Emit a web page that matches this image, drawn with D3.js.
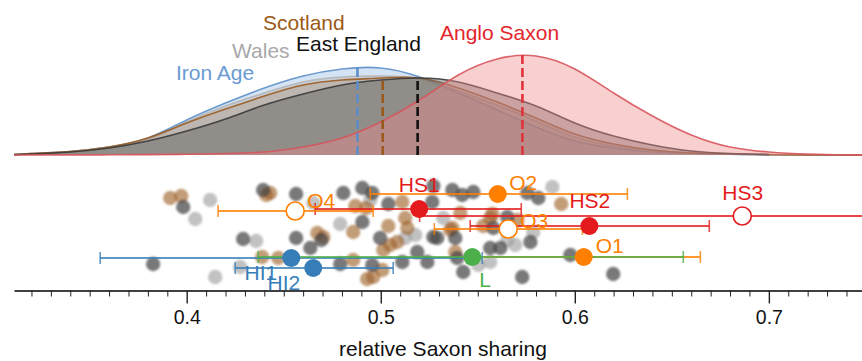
<!DOCTYPE html>
<html>
<head>
<meta charset="utf-8">
<script src="https://cdn.jsdelivr.net/npm/d3@7"></script>
<style>
  body { margin: 0; background: #fff; }
  svg { display: block; font-family: "Liberation Sans", Arial, Helvetica, sans-serif; }
</style>
</head>
<body>
<svg id="chart" width="862" height="361"></svg>
<script>
// ---- density curves: relative Saxon sharing grid and curve heights (% of Anglo Saxon peak)
const densityGrid = [0.311, 0.32, 0.34, 0.36, 0.38, 0.40, 0.42, 0.44, 0.46, 0.48, 0.50, 0.52,
                     0.54, 0.56, 0.58, 0.60, 0.62, 0.64, 0.66, 0.68, 0.70, 0.72, 0.74, 0.748];
const ironAgeDensity     = [0.5, 1.5, 3.5, 8, 17, 35, 52, 67, 79, 86, 87, 78, 62, 45, 28, 14, 7, 3, 1.5, 0.7, 0.3, 0.1, 0, 0];
const walesDensity       = [0.5, 1.5, 3.5, 8, 16, 33, 49, 62, 73, 78, 79, 76, 64, 50, 34, 18, 9, 4, 2, 1, 0.4, 0.1, 0, 0];
const scotlandDensity    = [0.4, 1.5, 3.5, 8, 17, 32, 46, 59, 70, 75, 77, 77, 67, 53, 37, 21, 11, 5, 2, 1, 0.4, 0.1, 0, 0];
const eastEnglandDensity = [0.3, 1, 3, 7, 14, 24, 36, 50, 61, 70, 75, 77, 73, 62, 49, 32, 19, 10, 4, 1.5, 0.5];
const angloSaxonDensity  = [0, 0, 0.1, 0.2, 0.4, 0.7, 1.5, 3, 8, 17, 33, 55, 80, 96, 99, 86, 62, 39, 20, 8, 3, 1, 0.2, 0.1];

const densityNames = ["Iron Age", "Wales", "Scotland", "East England", "Anglo Saxon"];
const densityMeans = { "Iron Age": 0.488, "Scotland": 0.501, "East England": 0.519, "Anglo Saxon": 0.573 };

// ---- individual samples: relative Saxon sharing and vertical jitter lane
const eastEnglandSamples = [0.3827, 0.3982, 0.4291, 0.4394, 0.4564, 0.4564, 0.4637, 0.4694, 0.4807, 0.4905,
  0.4956, 0.5039, 0.4905, 0.4997, 0.4791, 0.4956, 0.5111, 0.5188, 0.5240, 0.5291, 0.5394, 0.5564, 0.5616,
  0.5580, 0.5369, 0.5477, 0.5265, 0.5271, 0.5384, 0.5652, 0.5755, 0.5812, 0.5771, 0.5425, 0.5729, 0.5977,
  0.6198, 0.5271, 0.5420];
const eastEnglandJitter = [8.4, 2.7, 5.9, 1.0, 1.4, 5.8, 6.8, 6.0, 1.3, 0.8,
  1.3, 2.4, 4.2, 5.8, 8.4, 8.5, 8.2, 7.2, 8.2, 5.8, 7.8, 6.8, 6.8,
  4.8, 1.0, 1.2, 2.2, 5.7, 5.8, 3.7, 1.3, 1.8, 6.2, 9.2, 9.7, 7.5,
  9.4, 0.6, 1.5];
const scotlandSamples = [0.3915, 0.3972, 0.4410, 0.4430, 0.4389, 0.4472, 0.4673, 0.4704, 0.4869, 0.4925,
  0.5111, 0.4858, 0.5039, 0.5126, 0.5137, 0.5049, 0.5085, 0.5013, 0.4858, 0.5008, 0.4961, 0.4930,
  0.5369, 0.5384, 0.5528, 0.5575, 0.5410, 0.5358, 0.5564, 0.5704, 0.5930];
const scotlandJitter = [1.8, 1.6, 1.5, 1.3, 7.7, 7.8, 5.3, 5.7, 2.6, 2.8,
  2.2, 5.2, 4.6, 3.8, 4.8, 6.5, 6.2, 7.0, 8.0, 9.0, 9.7, 9.9,
  4.8, 7.2, 4.6, 3.4, 3.3, 5.0, 3.8, 4.0, 2.4];
const walesSamples = [0.4121, 0.4044, 0.4147, 0.4276, 0.4358, 0.4652, 0.4791, 0.5126, 0.5503, 0.5322,
  0.5884, 0.5786, 0.5652, 0.5693, 0.4946, 0.5178, 0.5564];
const walesJitter = [2.0, 3.9, 9.7, 8.7, 6.1, 2.3, 4.4, 5.8, 8.5, 3.8,
  0.7, 5.2, 6.0, 6.5, 2.0, 5.5, 8.2];

// ---- reference populations: estimate, confidence interval, lane
const refNames  = ["HS1", "HS2", "HS3", "O1", "O2", "O3", "O4", "HI1", "HI2", "L"];
const refGroups = ["HS", "HS", "HS", "O", "O", "O", "O", "HI", "HI", "L"];
const refValues = [0.5198, 0.6075, 0.6863, 0.6046, 0.5603, 0.5657, 0.4559, 0.4539, 0.4652, 0.5472];
const refLow    = [0.4662, 0.5461, 0.5200, 0.5451, 0.4946, 0.5276, 0.4162, 0.3554, 0.4250, 0.4369];
const refHigh   = [0.5724, 0.6693, 0.8500, 0.6647, 0.6271, 0.6039, 0.4961, 0.5523, 0.5064, 0.6559];
const refLanes  = [2.9, 4.6, 3.6, 7.7, 1.4, 4.9, 3.1, 7.8, 8.8, 7.7];
const refHollow = ["HS3", "O3", "O4"];

// ---- axis ticks
const majorTicks = [0.4, 0.5, 0.6, 0.7];
const axisTitle = "relative Saxon sharing";

// ---- styling and layout
const densityStyle = {
  "Iron Age":     { stroke: "#5e90c9", fill: "#a9c9ea", opacity: 0.5, text: "#6a9bd2", dash: "#5b8ec8" },
  "Wales":        { stroke: "#b4b4b4", fill: "#b8b8b8", opacity: 0.45, text: "#a8a8a8", dash: "#aaaaaa" },
  "Scotland":     { stroke: "#9a5c22", fill: "#a97448", opacity: 0.28, text: "#9c5a16", dash: "#9a5a1c" },
  "East England": { stroke: "#3a3a3a", fill: "#5a5a5a", opacity: 0.45, text: "#111111", dash: "#111111" },
  "Anglo Saxon":  { stroke: "#d8545c", fill: "#f08a8a", opacity: 0.4, text: "#e3262c", dash: "#e0323a" }
};
const densityLabelPos = {
  "Scotland": [263, 30], "East England": [296, 51], "Wales": [232, 58],
  "Iron Age": [176, 80], "Anglo Saxon": [440, 40]
};
const groupColor = { HS: "#e41a1c", O: "#ff7f00", HI: "#377eb8", L: "#4daf4a" };
// label offset from marker: [dx, dy, anchor]
const refLabelOffset = {
  HS1: [0, -17, "middle"], HS2: [0.5, -18, "middle"], HS3: [0.5, -16, "middle"],
  O1: [12, -4, "start"], O2: [11.5, -4, "start"], O3: [12, -1, "start"], O4: [12, -3, "start"],
  HI1: [-14, 22, "end"], HI2: [-13, 22, "end"], L: [7, 30, "start"]
};

const svg = d3.select("#chart");
const x = d3.scaleLinear().domain([0.311, 0.748]).range([14, 862]);
const yDens = d3.scaleLinear().domain([0, 100]).range([155, 55]);
const yLane = d3.scaleLinear().domain([0, 11]).range([180, 290]);

const densities = {
  "Iron Age": ironAgeDensity, "Wales": walesDensity, "Scotland": scotlandDensity,
  "East England": eastEnglandDensity, "Anglo Saxon": angloSaxonDensity
};

const defs = svg.append("defs");
defs.append("filter").attr("id", "soft").attr("x", "-50%").attr("y", "-50%").attr("width", "200%").attr("height", "200%")
  .append("feGaussianBlur").attr("stdDeviation", 0.9);
defs.append("clipPath").attr("id", "densClip").append("rect")
  .attr("x", 0).attr("y", 0).attr("width", 862).attr("height", 156);

// ---- density areas (smooth spline through the sampled heights)
const area = d3.area().curve(d3.curveNatural)
  .x(d => x(d[0])).y0(yDens(0)).y1(d => yDens(d[1]));
const line = d3.line().curve(d3.curveNatural)
  .x(d => x(d[0])).y(d => yDens(d[1]));

const gDens = svg.append("g").attr("clip-path", "url(#densClip)");
densityNames.forEach(name => {
  const pts = densities[name].map((h, i) => [densityGrid[i], h]);
  const st = densityStyle[name];
  gDens.append("path").datum(pts).attr("d", area)
    .attr("fill", st.fill).attr("fill-opacity", st.opacity);
  gDens.append("path").datum(pts).attr("d", line)
    .attr("fill", "none").attr("stroke", st.stroke).attr("stroke-width", 1.6).attr("stroke-opacity", 0.9);
});

// dashed mean markers
function heightAt(name, v) {
  const h = densities[name];
  for (let i = 0; i < h.length - 1; i++) {
    const a = densityGrid[i], b = densityGrid[i + 1];
    if (v >= a && v <= b) return h[i] + (h[i + 1] - h[i]) * (v - a) / (b - a);
  }
  return 0;
}
Object.keys(densityMeans).forEach(name => {
  const v = densityMeans[name];
  const top = Math.max(heightAt(name, v), d3.max(densities[name]) * 0.99);
  gDens.append("line")
    .attr("x1", x(v)).attr("x2", x(v))
    .attr("y1", yDens(0)).attr("y2", yDens(name === "Anglo Saxon" ? 100 : top + 1))
    .attr("stroke", densityStyle[name].dash)
    .attr("stroke-width", 2.6).attr("stroke-dasharray", "9,4");
});

// density labels
densityNames.forEach(name => {
  const p = densityLabelPos[name];
  svg.append("text").attr("x", p[0]).attr("y", p[1])
    .attr("font-size", 21).attr("fill", densityStyle[name].text).text(name);
});

// ---- sample points
const gPts = svg.append("g").attr("filter", "url(#soft)");
function drawSamples(vals, jit, fill, op) {
  gPts.selectAll(null).data(vals.map((v, i) => [v, jit[i]])).enter().append("circle")
    .attr("cx", d => x(d[0])).attr("cy", d => yLane(d[1])).attr("r", 7.2)
    .attr("fill", fill).attr("fill-opacity", op);
}
drawSamples(walesSamples, walesJitter, "#9a9a9a", 0.6);
drawSamples(scotlandSamples, scotlandJitter, "#9c6128", 0.62);
drawSamples(eastEnglandSamples, eastEnglandJitter, "#474747", 0.72);

// ---- reference estimates with confidence intervals
const refs = refNames.map((n, i) => ({
  name: n, group: refGroups[i], v: refValues[i], lo: refLow[i], hi: refHigh[i],
  lane: refLanes[i], hollow: refHollow.includes(n)
}));
const gRef = svg.append("g");
refs.forEach(r => {
  const c = groupColor[r.group];
  const yy = yLane(r.lane);
  gRef.append("line").attr("x1", x(r.lo)).attr("x2", x(r.hi)).attr("y1", yy).attr("y2", yy)
    .attr("stroke", c).attr("stroke-width", 2).attr("stroke-opacity", 0.8);
  [r.lo, r.hi].forEach(e => {
    gRef.append("line").attr("x1", x(e)).attr("x2", x(e)).attr("y1", yy - 6).attr("y2", yy + 6)
      .attr("stroke", c).attr("stroke-width", 1.6).attr("stroke-opacity", 0.8);
  });
});
refs.forEach(r => {
  const c = groupColor[r.group];
  gRef.append("circle").attr("cx", x(r.v)).attr("cy", yLane(r.lane)).attr("r", 9)
    .attr("fill", r.hollow ? "#fff" : c).attr("stroke", r.hollow ? c : "none").attr("stroke-width", 1.6);
  const o = refLabelOffset[r.name];
  gRef.append("text").attr("x", x(r.v) + o[0]).attr("y", yLane(r.lane) + o[1])
    .attr("text-anchor", o[2]).attr("font-size", 21).attr("fill", c).text(r.name);
});

// ---- axis
const minorTicks = d3.range(32, 75).map(k => k / 100).filter(t => !majorTicks.some(m => Math.abs(m - t) < 1e-9));
const gAxis = svg.append("g").attr("transform", "translate(0,290.5)");
gAxis.append("g").call(d3.axisBottom(x).tickValues(minorTicks).tickSize(6).tickSizeOuter(0).tickFormat(""))
  .call(g => g.select(".domain").attr("stroke-width", 1.6));
gAxis.append("g").call(d3.axisBottom(x).tickValues(majorTicks).tickSize(13).tickSizeOuter(0).tickPadding(7)
    .tickFormat(d3.format(".1f")))
  .call(g => g.select(".domain").remove())
  .call(g => g.selectAll(".tick line").attr("stroke-width", 1.4))
  .call(g => g.selectAll("text").attr("font-size", 19.5).attr("fill", "#111")
    .attr("font-family", "\"Liberation Sans\", Arial, sans-serif"));
gAxis.selectAll(".tick line").attr("stroke", "#222");

svg.append("text").attr("x", 443).attr("y", 356).attr("text-anchor", "middle")
  .attr("font-size", 21).attr("fill", "#111").text(axisTitle);
</script>
</body>
</html>
